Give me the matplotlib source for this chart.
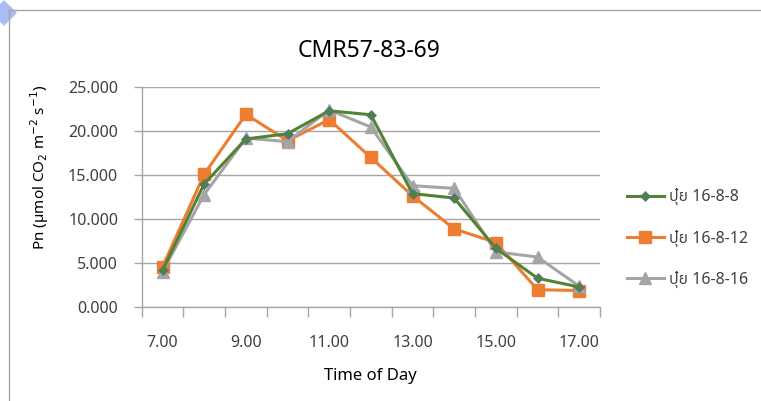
import numpy as np
import matplotlib
matplotlib.use("Agg")
from matplotlib import pyplot as plt
from matplotlib.lines import Line2D
from matplotlib.patches import Polygon

plt.rcParams['font.family'] = ['Noto Sans', 'Anuphan', 'DejaVu Sans']

# data
hours = [7, 8, 9, 10, 11, 12, 13, 14, 15, 16, 17]
pn_16_8_8 = [4.2, 14.0, 19.1, 19.7, 22.3, 21.85, 12.9, 12.4, 6.7, 3.3, 2.3]
pn_16_8_12 = [4.6, 15.1, 21.9, 18.9, 21.3, 17.0, 12.65, 8.9, 7.35, 2.0, 1.9]
pn_16_8_16 = [4.05, 12.8, 19.2, 18.8, 22.4, 20.45, 13.8, 13.5, 6.3, 5.7, 2.4]
series_names = ['ปุ๋ย 16-8-8', 'ปุ๋ย 16-8-12', 'ปุ๋ย 16-8-16']

W, H = 761, 401
fig = plt.figure(figsize=(W / 100, H / 100), dpi=100)
ax = fig.add_axes([141.7 / W, 1 - 307.3 / H, (600 - 141.7) / W, (307.3 - 87) / H])

x = np.arange(len(hours))
ax.plot(x, pn_16_8_8, color='#548235', lw=2.2, marker='D', ms=5.5,
        mfc='#548235', mec='#4472C4', mew=0.5, label=series_names[0], zorder=3)
ax.plot(x, pn_16_8_12, color='#ED7D31', lw=2.2, marker='s', ms=8,
        mfc='#ED7D31', mec='#ED7D31', label=series_names[1], zorder=2)
ax.plot(x, pn_16_8_16, color='#A5A5A5', lw=2.2, marker='^', ms=9,
        mfc='#A5A5A5', mec='#A5A5A5', label=series_names[2], zorder=2.5)

ax.set_xlim(-0.5, len(hours) - 0.5)
ax.set_ylim(0, 25)
ax.set_yticks(np.arange(0, 26, 5))
ax.set_yticklabels([f"{v:.3f}" for v in np.arange(0, 26, 5)])
ax.set_xticks(x[::2])
ax.set_xticklabels([f"{h:.2f}" for h in hours[::2]])
ax.set_xticks(np.arange(-0.5, len(hours), 1), minor=True)
ax.tick_params(axis='x', which='major', length=0, pad=20, labelsize=11.5, colors='#404040')
ax.tick_params(axis='x', which='minor', length=7, width=1, color='#A6A6A6')
ax.tick_params(axis='y', length=6, width=1, color='#A6A6A6', labelsize=11.5,
               labelcolor='#404040', pad=11)

ax.grid(axis='y', color='#A6A6A6', lw=1)
ax.set_axisbelow(True)
for s in ['top', 'right']:
    ax.spines[s].set_visible(False)
for s in ['left', 'bottom']:
    ax.spines[s].set_color('#A6A6A6')
    ax.spines[s].set_linewidth(1)

fig.text(369 / W, 1 - 51 / H, 'CMR57-83-69', ha='center', va='center', fontsize=16.5, color='#000000')
fig.text(370 / W, 1 - 376 / H, 'Time of Day', ha='center', va='center', fontsize=12, color='#000000')
fig.text(40 / W, 1 - 167 / H, r'Pn (µmol CO$_2$ m$^{-2}$ s$^{-1}$)', ha='center', va='center',
         rotation=90, fontsize=11, color='#000000')

fig.legend(loc='center left', bbox_to_anchor=(627 / W, 1 - 238 / H), frameon=False,
           fontsize=11.5, handlelength=2.3, handletextpad=0.3, labelspacing=1.5,
           borderpad=0, borderaxespad=0, labelcolor='#404040')

# chart border and selection corner
fig.add_artist(Line2D([9 / W, 1], [1 - 10 / H, 1 - 10 / H], color='#A6A6A6', lw=1))
fig.add_artist(Line2D([9 / W, 9 / W], [0, 1 - 10 / H], color='#A6A6A6', lw=1))
fig.add_artist(Polygon([[(4 - 12) / W, 1 - 13 / H], [4 / W, 1 - 1 / H],
                        [16 / W, 1 - 13 / H], [4 / W, 1 - 25 / H]],
                       closed=True, color='#A9BCF5', transform=fig.transFigure))

fig.savefig('out.png', dpi=100)
